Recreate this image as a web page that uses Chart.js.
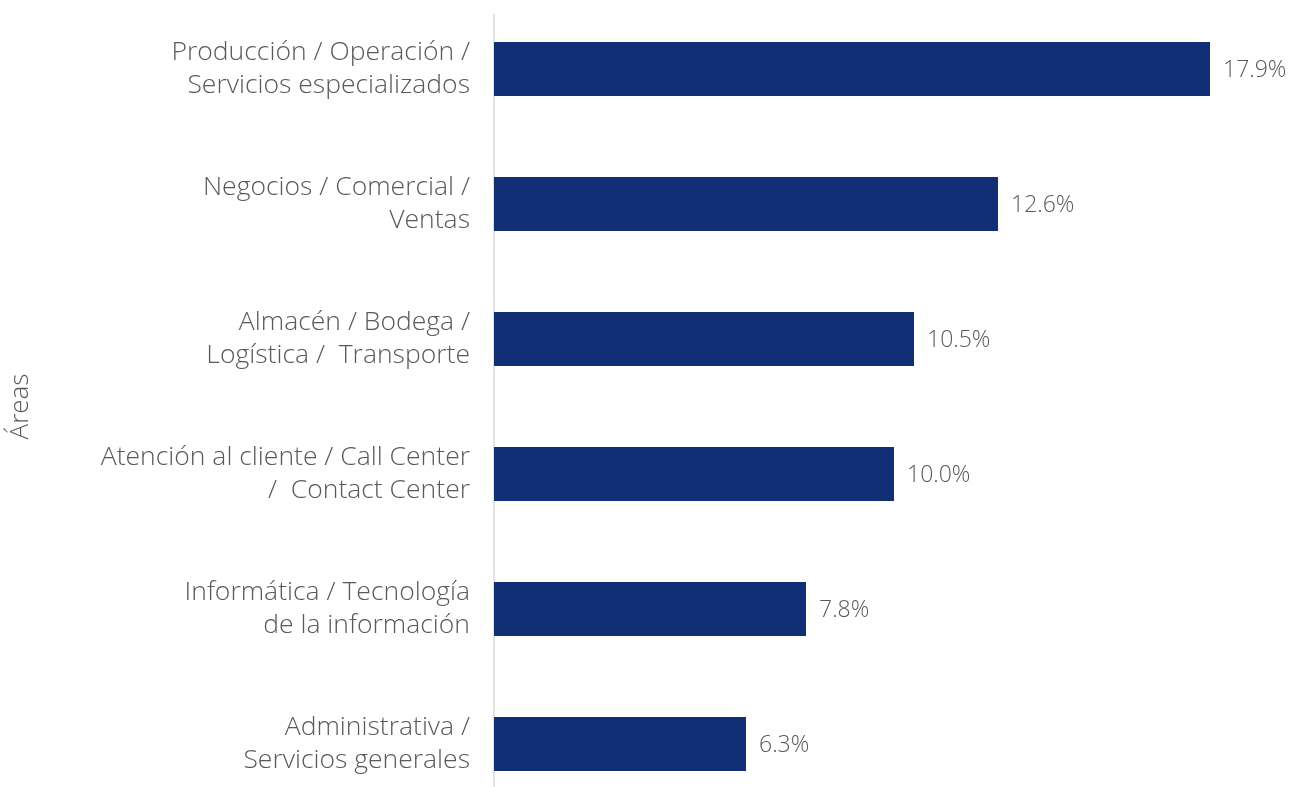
<!DOCTYPE html>
<html>
<head>
<meta charset="utf-8">
<script src="https://cdn.jsdelivr.net/npm/chart.js@4/dist/chart.umd.min.js"></script>
<style>
html,body{margin:0;padding:0;background:#fff;overflow:hidden;}
#wrap{position:relative;width:1292px;height:812px;}
</style>
</head>
<body>
<div id="wrap"><canvas id="c"></canvas></div>
<script>
const categories = [
  ["Producción / Operación /", "Servicios especializados"],
  ["Negocios / Comercial /", "Ventas"],
  ["Almacén / Bodega /", "Logística /  Transporte"],
  ["Atención al cliente / Call Center", "/  Contact Center"],
  ["Informática / Tecnología", "de la información"],
  ["Administrativa /", "Servicios generales"]
];
const values = [17.9, 12.6, 10.5, 10.0, 7.8, 6.3];
const valueLabels = ["17.9%", "12.6%", "10.5%", "10.0%", "7.8%", "6.3%"];
const axisTitle = "Áreas";

const FONT = "'Open Sans', sans-serif";
const TEXT = "#595959";

const valueLabelPlugin = {
  id: "valueLabels",
  afterDatasetsDraw(chart) {
    const ctx = chart.ctx;
    const meta = chart.getDatasetMeta(0);
    ctx.save();
    ctx.font = "300 23px " + FONT;
    ctx.fillStyle = TEXT;
    ctx.textAlign = "left";
    ctx.textBaseline = "middle";
    meta.data.forEach((bar, i) => {
      ctx.fillText(valueLabels[i], bar.x + 13, bar.y + 1);
    });
    ctx.restore();
  }
};
const axisLinePlugin = {
  id: "axisLine",
  beforeDatasetsDraw(chart) {
    const ctx = chart.ctx;
    const a = chart.chartArea;
    ctx.save();
    ctx.strokeStyle = "#d9d9d9";
    ctx.lineWidth = 1.5;
    ctx.beginPath();
    ctx.moveTo(a.left, 14);
    ctx.lineTo(a.left, a.bottom);
    ctx.stroke();
    ctx.restore();
  }
};

new Chart(document.getElementById("c"), {
  type: "bar",
  data: {
    labels: categories,
    datasets: [{
      data: values,
      backgroundColor: "#112f75",
      barPercentage: 0.4,
      categoryPercentage: 1.0
    }]
  },
  options: {
    indexAxis: "y",
    responsive: true,
    maintainAspectRatio: false,
    animation: false,
    layout: { padding: { top: 1.5, bottom: 0.5, left: 0, right: 2 } },
    plugins: { legend: { display: false }, tooltip: { enabled: false } },
    scales: {
      x: {
        min: 0, max: 19.9,
        display: false
      },
      y: {
        grid: { display: false, drawTicks: false },
        border: { display: false },
        ticks: {
          color: TEXT,
          font: { family: FONT, size: 26.5, weight: "300", lineHeight: 1.23 },
          padding: 24
        },
        title: {
          display: true,
          text: axisTitle,
          color: TEXT,
          font: { family: FONT, size: 26, weight: "300" },
          padding: { top: 5, bottom: 0 }
        },
        afterFit(scale) {
          scale.width = 494;
          scale.paddingTop = 0;
          scale.paddingBottom = 0;
        }
      }
    }
  },
  plugins: [valueLabelPlugin, axisLinePlugin]
});
</script>
</body>
</html>
